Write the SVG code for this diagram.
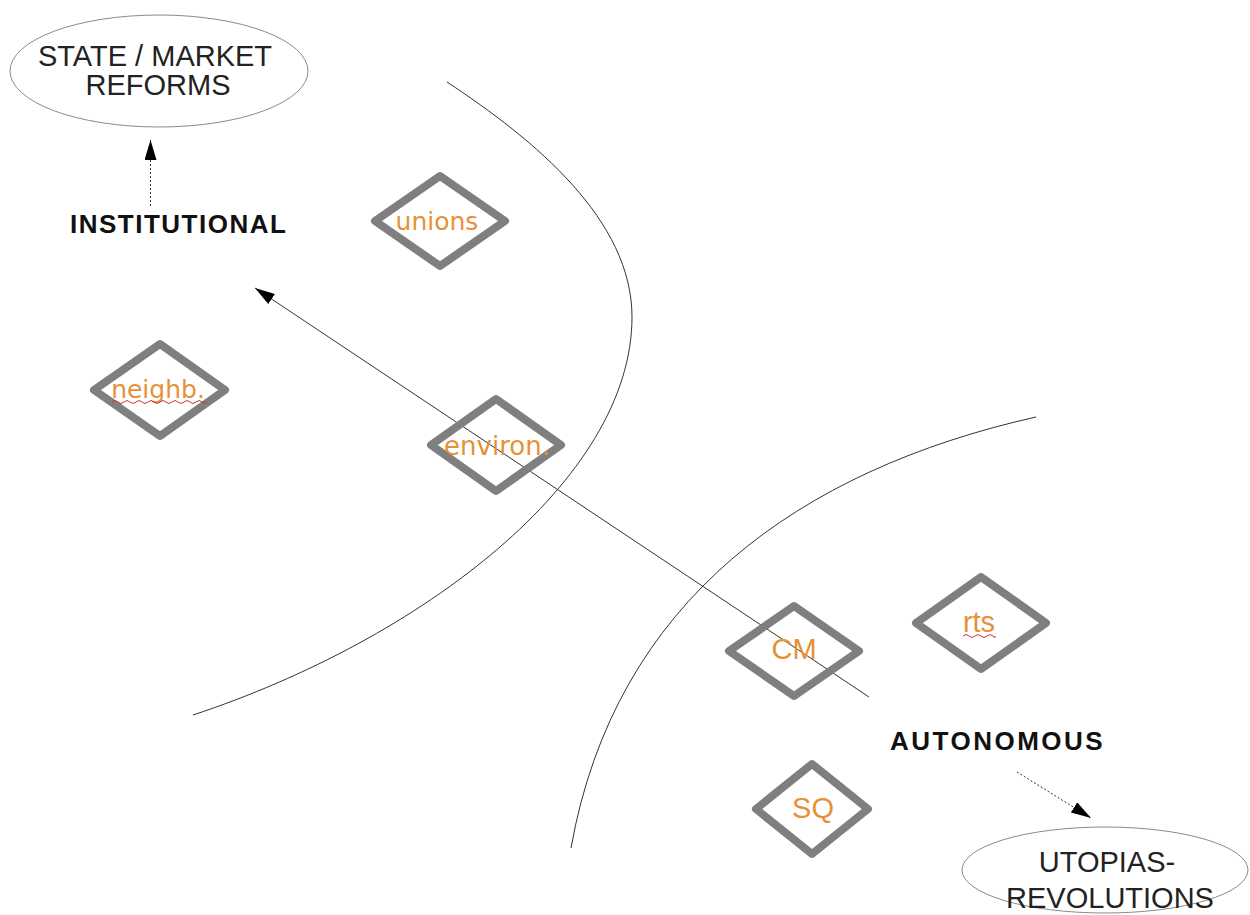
<svg xmlns="http://www.w3.org/2000/svg" width="1250" height="915" viewBox="0 0 1250 915">
<style>
.bg{fill:#ffffff}
.dia{fill:none;stroke:#7f7f7f;stroke-width:8;stroke-linejoin:round}
.lbl{fill:#e69138;font-family:"DejaVu Sans",sans-serif;font-size:25px;text-anchor:middle}
.lbl2{fill:#e69138;font-family:"Liberation Sans",Arial,sans-serif;font-size:29px;text-anchor:middle}
.ell{fill:#ffffff;stroke:#8a8a8a;stroke-width:1}
.etxt{fill:#222;font-family:"Liberation Sans",Arial,sans-serif;font-size:29px;text-anchor:middle}
.big{fill:#111;font-family:"Liberation Sans",Arial,sans-serif;font-size:26px;font-weight:bold;letter-spacing:1.5px}
.curve{fill:none;stroke:#333;stroke-width:1}
.conn{fill:none;stroke:#333;stroke-width:1}
.dot{fill:none;stroke:#333;stroke-width:1;stroke-dasharray:2,2}
.sq{fill:none;stroke:#cc3333;stroke-width:1}
</style>
<defs>
<marker id="ah" markerWidth="20" markerHeight="12" refX="20" refY="6" orient="auto" markerUnits="userSpaceOnUse">
<path d="M0,0 L20,6 L0,12 Z" fill="#000"/>
</marker>
</defs>
<rect class="bg" x="0" y="0" width="1250" height="915"/>
<g id="regions">
<path class="curve" d="M447,82 C535,140 632,220 632,317 C632,480 420,640 193,715"/>
<path class="curve" d="M1036,417 C800,470 615,600 571,848"/>
</g>
<g id="connectors">
<line class="conn" x1="869" y1="697" x2="255" y2="288" marker-end="url(#ah)"/>
<line class="dot" x1="150.5" y1="206" x2="150.5" y2="140" marker-end="url(#ah)"/>
<line class="dot" x1="1017" y1="772" x2="1091" y2="818" marker-end="url(#ah)"/>
</g>
<g id="state-market">
<ellipse class="ell" cx="159" cy="71" rx="149" ry="56"/>
<text class="etxt" x="155" y="66">STATE / MARKET</text>
<text class="etxt" x="158" y="95">REFORMS</text>
</g>
<g id="institutional">
<text class="big" x="70" y="233">INSTITUTIONAL</text>
</g>
<g id="unions">
<path class="dia" d="M440,176 L505,221 L440,266 L375,221 Z"/>
<text class="lbl" x="437" y="230">unions</text>
</g>
<g id="neighb">
<path class="dia" d="M160,344 L225,390 L160,436 L94,390 Z"/>
<text class="lbl" x="158" y="398">neighb.</text>
<path class="sq" d="M112,402 q3,-3 6,0 t6,0 t6,0 t6,0 t6,0 t6,0 t6,0 t6,0 t6,0 t6,0 t6,0 t6,0 t6,0 t6,0 t6,0 t5,0"/>
</g>
<g id="environ">
<path class="dia" d="M496,399 L561,445 L496,491 L431,445 Z"/>
<text class="lbl" x="497" y="455" style="font-size:26px">environ.</text>
</g>
<g id="cm">
<path class="dia" d="M794,606 L859,651 L794,696 L729,651 Z"/>
<text class="lbl2" x="794" y="659">CM</text>
</g>
<g id="rts">
<path class="dia" d="M981,577 L1046,623 L981,669 L916,623 Z"/>
<text class="lbl2" x="979" y="632">rts</text>
<path class="sq" d="M963,636 q3,-3 6,0 t6,0 t6,0 t6,0 t6,0 t2,0"/>
</g>
<g id="sq">
<path class="dia" d="M812,764 L868,809 L812,854 L756,809 Z"/>
<text class="lbl2" x="813" y="818">SQ</text>
</g>
<g id="autonomous">
<text class="big" x="890" y="750" style="letter-spacing:2.5px">AUTONOMOUS</text>
</g>
<g id="utopias">
<ellipse class="ell" cx="1105" cy="870" rx="143" ry="43"/>
<text class="etxt" x="1107" y="872">UTOPIAS-</text>
<text class="etxt" x="1110" y="908">REVOLUTIONS</text>
</g>
</svg>
